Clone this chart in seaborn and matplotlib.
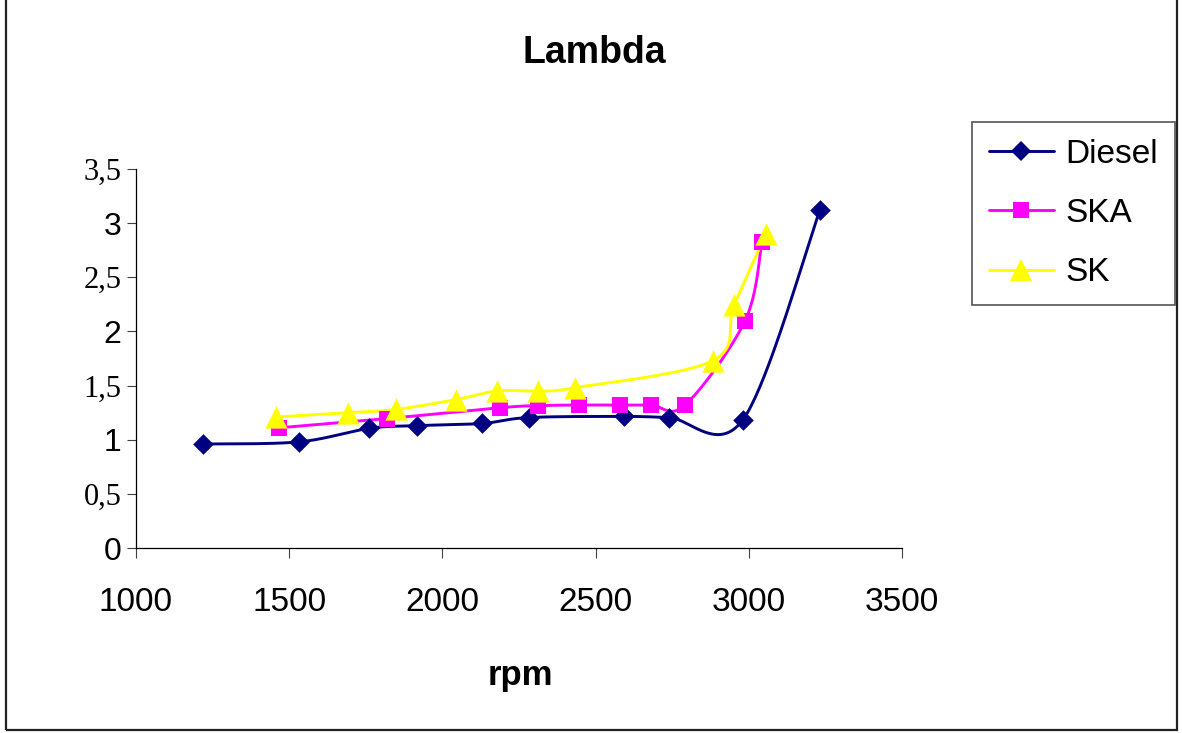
import numpy as np
import matplotlib
matplotlib.use("Agg")
import matplotlib.pyplot as plt
from matplotlib.lines import Line2D
from matplotlib.patches import Rectangle
import seaborn as sns

# ---- data ----
rpm_diesel = [1219, 1532, 1760, 1917, 2129, 2283, 2593, 2740, 2981, 3232]
lambda_diesel = [0.96, 0.98, 1.105, 1.13, 1.15, 1.205, 1.215, 1.205, 1.185, 3.12]

rpm_ska = [1467, 1819, 2188, 2312, 2446, 2580, 2681, 2792, 2988, 3043]
lambda_ska = [1.11, 1.195, 1.295, 1.315, 1.32, 1.32, 1.32, 1.32, 2.10, 2.83]

rpm_sk = [1457, 1692, 1849, 2044, 2178, 2312, 2433, 2883, 2952, 3056]
lambda_sk = [1.21, 1.25, 1.28, 1.37, 1.45, 1.45, 1.48, 1.73, 2.24, 2.90]

series_names = ["Diesel", "SKA", "SK"]
x_ticks = [1000, 1500, 2000, 2500, 3000, 3500]
y_ticks = [0, 0.5, 1, 1.5, 2, 2.5, 3, 3.5]
y_tick_labels = ["0", "0,5", "1", "1,5", "2", "2,5", "3", "3,5"]

sns.set_style("white")
plt.rcParams["font.family"] = ["Liberation Sans", "DejaVu Sans"]
plt.rcParams["text.color"] = "black"
plt.rcParams["xtick.labelcolor"] = "black"
plt.rcParams["ytick.labelcolor"] = "black"

W, H = 1182, 733
fig = plt.figure(figsize=(W / 100, H / 100), dpi=100)
ax = fig.add_axes([136 / W, 1 - 548 / H, (902 - 136) / W, (548 - 169) / H])
ax.set_xlim(1000, 3500)
ax.set_ylim(0, 3.5)
ax.set_facecolor("white")

for s in ["top", "right"]:
    ax.spines[s].set_visible(False)
for s in ["left", "bottom"]:
    ax.spines[s].set_color("black")
    ax.spines[s].set_linewidth(0.9)


def smooth(ax, x, y, n=40):
    P = ax.transData.transform(np.column_stack([x, y]))
    m = len(P)
    out = []
    t = np.linspace(0, 1, n)[:, None]
    for i in range(m - 1):
        pm = P[i - 1] if i > 0 else P[i]
        pp = P[i + 2] if i + 2 < m else P[i + 1]
        c1 = P[i] + (P[i + 1] - pm) / 6.0
        c2 = P[i + 1] - (pp - P[i]) / 6.0
        seg = ((1 - t) ** 3) * P[i] + 3 * ((1 - t) ** 2) * t * c1 + 3 * (1 - t) * t ** 2 * c2 + t ** 3 * P[i + 1]
        out.append(seg if i == 0 else seg[1:])
    curve = np.vstack(out)
    d = ax.transData.inverted().transform(curve)
    return d[:, 0], d[:, 1]


styles = {
    "Diesel": dict(color="#000080", marker="D", ms=10.5),
    "SKA": dict(color="#FF00FF", marker="s", ms=11.5),
    "SK": dict(color="#FFFF00", marker="^", ms=16.0),
}
data = {
    "Diesel": (rpm_diesel, lambda_diesel),
    "SKA": (rpm_ska, lambda_ska),
    "SK": (rpm_sk, lambda_sk),
}

lw = 2.1
for name in series_names:
    xs, ys = data[name]
    st = styles[name]
    cx, cy = smooth(ax, xs, ys)
    sns.lineplot(x=cx, y=cy, sort=False, estimator=None, color=st["color"], lw=lw, ax=ax, zorder=2)
for name in series_names:
    xs, ys = data[name]
    st = styles[name]
    sns.scatterplot(x=xs, y=ys, marker=st["marker"], s=st["ms"] ** 2, color=st["color"],
                    linewidth=0, ax=ax, zorder=3)

ax.set_xticks(x_ticks)
ax.set_xticklabels([str(v) for v in x_ticks], fontsize=24, family="Liberation Sans")
ax.set_yticks(y_ticks)
ax.set_yticklabels(y_tick_labels)
for lbl in ax.get_yticklabels():
    if "," in lbl.get_text():
        lbl.set_family("Liberation Serif")
        lbl.set_fontsize(22)
    else:
        lbl.set_family("Liberation Sans")
        lbl.set_fontsize(23)
ax.tick_params(axis="x", direction="out", length=7.2, width=0.8, color="#404040", pad=21, bottom=True)
ax.tick_params(axis="y", direction="out", length=6.8, width=0.8, color="#404040", pad=3.5, left=True)
ax.set_xlabel("")
ax.set_ylabel("")

fig.text(594 / W, 1 - 63 / H, "Lambda", ha="center", va="baseline", fontsize=27,
         fontweight="bold", family="Liberation Sans", color="black")
fig.text(520 / W, 1 - 685 / H, "rpm", ha="center", va="baseline", fontsize=25,
         fontweight="bold", family="Liberation Sans", color="black")

handles = [Line2D([], [], color=styles[n]["color"], lw=lw, marker=styles[n]["marker"],
                  markersize=styles[n]["ms"], markeredgewidth=0) for n in series_names]
leg = fig.legend(handles, series_names, loc="upper left", bbox_to_anchor=(972 / W, 1 - 122 / H),
                 bbox_transform=fig.transFigure, fontsize=24, frameon=True, fancybox=False,
                 shadow=False, framealpha=1, edgecolor="#555555", handlelength=1.95,
                 handletextpad=0.35, labelspacing=0.85, borderpad=0.5, borderaxespad=0)
leg.get_frame().set_linewidth(1.2)
for t in leg.get_texts():
    t.set_family("Liberation Sans")
    t.set_color("black")

fig.patches.append(Rectangle((6 / W, 1 - 730 / H), (1177 - 6) / W, 730 / H + 0.05,
                             transform=fig.transFigure, fill=False, edgecolor="#222222",
                             linewidth=1.6, zorder=10))

fig.savefig("out.png", dpi=100, facecolor="white")
